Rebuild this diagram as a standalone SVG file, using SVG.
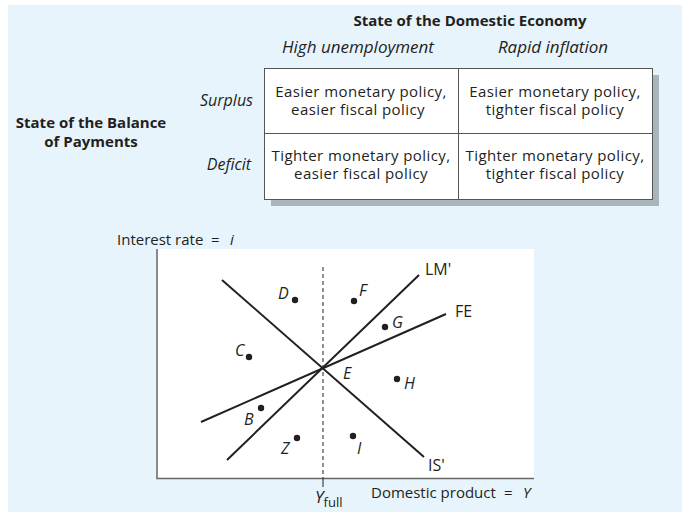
<svg xmlns="http://www.w3.org/2000/svg" width="682" height="512" viewBox="0 0 682 512">
<style>
text{font-family:"Open Sans","Liberation Sans",sans-serif;font-size:16px;fill:#231f20}
.b{font-weight:bold;font-size:15px}
.i{font-style:italic}
.h{font-style:italic;font-size:17px}
.m{text-anchor:middle}
.c{font-size:15px;letter-spacing:0.4px;text-anchor:middle}
.a{font-size:15px}
.cell{fill:#fff;stroke:#555;stroke-width:1}
.curve{stroke:#231f20;stroke-width:2;fill:none}
.ax{stroke:#666;stroke-width:1.5;fill:none}
.dot{fill:#231f20}
</style>
<rect x="0" y="0" width="682" height="512" fill="#fff"/>
<rect x="8" y="5" width="674" height="507" fill="#e8f4fc"/>
<g id="header">
<text class="b m" x="470" y="26">State of the Domestic Economy</text>
<text class="h m" x="358" y="53">High unemployment</text>
<text class="h m" x="553" y="53">Rapid inflation</text>
<text class="i" x="253" y="106" text-anchor="end">Surplus</text>
<text class="i" x="251" y="170" text-anchor="end">Deficit</text>
<text class="b m" x="91" y="128">State of the Balance</text>
<text class="b m" x="91" y="147">of Payments</text>
</g>
<g id="table">
<rect x="271" y="75" width="388" height="131" fill="#a9b4bb"/>
<rect class="cell" x="264.5" y="68.5" width="388" height="131"/>
<line x1="458.5" y1="68.5" x2="458.5" y2="199.5" stroke="#555"/>
<line x1="264.5" y1="133.5" x2="652.5" y2="133.5" stroke="#555"/>
<text class="c" x="361" y="96.5">Easier monetary policy,</text>
<text class="c" x="358" y="115">easier fiscal policy</text>
<text class="c" x="555" y="96.5">Easier monetary policy,</text>
<text class="c" x="555" y="115">tighter fiscal policy</text>
<text class="c" x="361" y="160.5">Tighter monetary policy,</text>
<text class="c" x="361" y="179">easier fiscal policy</text>
<text class="c" x="555" y="160.5">Tighter monetary policy,</text>
<text class="c" x="555" y="179">tighter fiscal policy</text>
</g>
<g id="graph">
<rect x="157" y="249" width="377" height="229" fill="#fff"/>
<path class="ax" d="M157,249 V478.5 H534"/>
<text class="a" x="117" y="245">Interest rate</text>
<text class="a" x="211" y="245">=</text>
<text class="a i" x="230" y="245">i</text>
<text class="a" x="371" y="498">Domestic product</text>
<text class="a" x="504" y="498">=</text>
<text class="a i" x="523" y="498">Y</text>
<line x1="323" y1="267" x2="323" y2="478" stroke="#231f20" stroke-width="1" stroke-dasharray="4,3"/>
<line x1="323" y1="478" x2="323" y2="487" stroke="#231f20" stroke-width="1"/>
<text x="315" y="503"><tspan class="i" font-size="17">Y</tspan><tspan font-size="13" dy="4">full</tspan></text>
</g>
<g id="connectors">
<line class="curve" x1="222" y1="280" x2="424" y2="457"/>
<line class="curve" x1="227" y1="460" x2="419" y2="275"/>
<line class="curve" x1="201" y1="422" x2="446" y2="314"/>
</g>
<g id="labels">
<text x="425" y="275">LM'</text>
<text x="455" y="317">FE</text>
<text x="428" y="471">IS'</text>
</g>
<g id="points">
<circle class="dot" cx="295" cy="300" r="3.2"/><text class="i" x="278" y="299">D</text>
<circle class="dot" cx="354" cy="301" r="3.2"/><text class="i" x="359" y="296">F</text>
<circle class="dot" cx="385" cy="327" r="3.2"/><text class="i" x="392" y="328">G</text>
<circle class="dot" cx="249" cy="357" r="3.2"/><text class="i" x="235" y="356">C</text>
<text class="i" x="343" y="379">E</text>
<circle class="dot" cx="397" cy="379" r="3.2"/><text class="i" x="404" y="389">H</text>
<circle class="dot" cx="261" cy="408" r="3.2"/><text class="i" x="244" y="425">B</text>
<circle class="dot" cx="297" cy="438" r="3.2"/><text class="i" x="281" y="454">Z</text>
<circle class="dot" cx="353" cy="436" r="3.2"/><text class="i" x="357" y="454">I</text>
</g>
</svg>
